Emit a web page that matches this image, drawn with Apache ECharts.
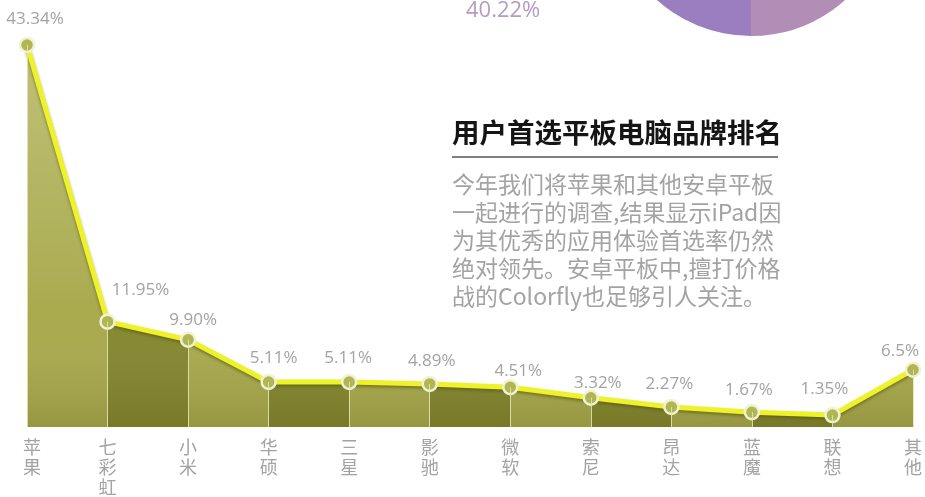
<!DOCTYPE html>
<html>
<head>
<meta charset="utf-8">
<script src="https://cdn.jsdelivr.net/npm/echarts@6/dist/echarts.min.js"></script>
<style>
html,body{margin:0;padding:0;background:#fff;}
#chart{width:925px;height:497px;}
</style>
</head>
<body>
<div id="chart"></div>
<script>
// ---- data ----
const categories = ['苹果','七彩虹','小米','华硕','三星','影驰','微软','索尼','昂达','蓝魔','联想','其他'];
const values = [43.34, 11.95, 9.90, 5.11, 5.11, 4.89, 4.51, 3.32, 2.27, 1.67, 1.35, 6.5];
const labelTexts = ['43.34%','11.95%','9.90%','5.11%','5.11%','4.89%','4.51%','3.32%','2.27%','1.67%','1.35%','6.5%'];
const pieNames = ['A','B'];
const pieValues = [40.22, 59.78];
const pieLabel = '40.22%';
const titleText = '用户首选平板电脑品牌排名';
const paragraphLines = [
  '今年我们将苹果和其他安卓平板',
  '一起进行的调查,结果显示iPad因',
  '为其优秀的应用体验首选率仍然',
  '绝对领先。安卓平板中,擅打价格',
  '战的Colorfly也足够引人关注。'
];

// ---- styling helpers ----
const labelOffsets = [[8,-4],[33,-10],[5,2],[5,-2],[-1,-2],[2,-1],[8,6],[7,7],[-2,-1],[-3,0],[-8,-4],[-13,3]];
const lightC = '#a8a94b', darkC = '#84862e';
const n = values.length;
const stops = [];
for (let i = 0; i < n - 1; i++) {
  const c = i % 2 === 0 ? lightC : darkC;
  stops.push({offset: i / (n - 1), color: c});
  stops.push({offset: (i + 1) / (n - 1), color: c});
}

const chart = echarts.init(document.getElementById('chart'), null, {renderer: 'canvas'});
const lineData = values.map((v, i) => ({value: v, label: {offset: labelOffsets[i]}}));
const markData = values.map((v, i) => [{coord: [categories[i], 0]}, {coord: [categories[i], v]}]);

chart.setOption({
  animation: false,
  backgroundColor: '#ffffff',
  grid: {left: 27, right: 7, top: 45, bottom: 70, containLabel: false},
  xAxis: {
    type: 'category',
    data: categories,
    boundaryGap: false,
    axisLine: {show: false},
    axisTick: {show: false},
    splitLine: {show: false},
    axisLabel: {
      color: '#a3a3a3',
      fontSize: 18,
      lineHeight: 20,
      margin: 10,
      fontFamily: '"Noto Sans CJK SC", sans-serif',
      verticalAlign: 'top',
      interval: 0,
      formatter: (v, idx) => idx === 0
        ? v.split('').map(ch => '{f|' + ch + '}').join('\n')
        : v.split('').join('\n'),
      rich: {
        f: {padding: [0, 0, 0, 10], fontSize: 18, lineHeight: 20, color: '#a3a3a3',
            fontFamily: '"Noto Sans CJK SC", sans-serif'}
      }
    }
  },
  yAxis: {type: 'value', min: 0, max: 'dataMax', show: false, splitLine: {show: false}},
  series: [
    {
      type: 'line',
      data: values,
      z: 1,
      silent: true,
      symbol: 'none',
      lineStyle: {width: 0},
      areaStyle: {opacity: 1, color: new echarts.graphic.LinearGradient(0, 0, 1, 0, stops)}
    },
    {
      type: 'line',
      data: values,
      z: 2,
      silent: true,
      symbol: 'none',
      lineStyle: {width: 0},
      areaStyle: {
        opacity: 1,
        color: new echarts.graphic.LinearGradient(0, 0, 0, 1, [
          {offset: 0, color: 'rgba(255,255,230,0.28)'},
          {offset: 0.7, color: 'rgba(255,255,255,0.02)'},
          {offset: 1, color: 'rgba(40,40,0,0.14)'}
        ])
      },
      markLine: {
        silent: true,
        symbol: ['none', 'none'],
        label: {show: false},
        lineStyle: {color: 'rgba(230,230,180,0.85)', width: 1, type: 'solid'},
        emphasis: {disabled: true},
        data: markData
      }
    },
    {
      type: 'line',
      data: lineData,
      z: 3,
      silent: true,
      symbol: 'circle',
      symbolSize: 14,
      showAllSymbol: true,
      lineStyle: {
        color: '#eef22a',
        width: 5,
        shadowColor: 'rgba(80,80,10,0.55)',
        shadowBlur: 3,
        shadowOffsetY: 2
      },
      itemStyle: {color: '#b1b553', borderColor: '#f1f2d2', borderWidth: 2.5},
      label: {
        show: true,
        position: 'top',
        distance: 5,
        color: '#a3a3a3',
        fontSize: 17,
        fontFamily: '"Open Sans", sans-serif',
        formatter: p => labelTexts[p.dataIndex]
      }
    },
    {
      type: 'pie',
      center: [751, -105],
      radius: 141,
      startAngle: -90,
      silent: true,
      label: {show: false},
      labelLine: {show: false},
      data: pieValues.map((v, i) => ({name: pieNames[i], value: v})),
      color: ['#9a7ec0', '#b28db6']
    }
  ],
  graphic: [
    {
      type: 'text', left: 466, top: 0,
      style: {text: pieLabel, fill: '#b49cc2', font: '22px "Open Sans", sans-serif'}
    },
    {
      type: 'text', left: 452, top: 119,
      style: {text: titleText, fill: '#151515', font: 'bold 27.5px "Noto Sans CJK SC", sans-serif'}
    },
    {
      type: 'line',
      shape: {x1: 452, y1: 157, x2: 778, y2: 157},
      style: {stroke: '#555', lineWidth: 1.5}
    },
    {
      type: 'text', left: 452, top: 170,
      style: {
        text: paragraphLines.join('\n'),
        fill: '#a3a3a3',
        font: '23px "Noto Sans CJK SC", sans-serif',
        lineHeight: 28
      }
    }
  ]
});
</script>
</body>
</html>
